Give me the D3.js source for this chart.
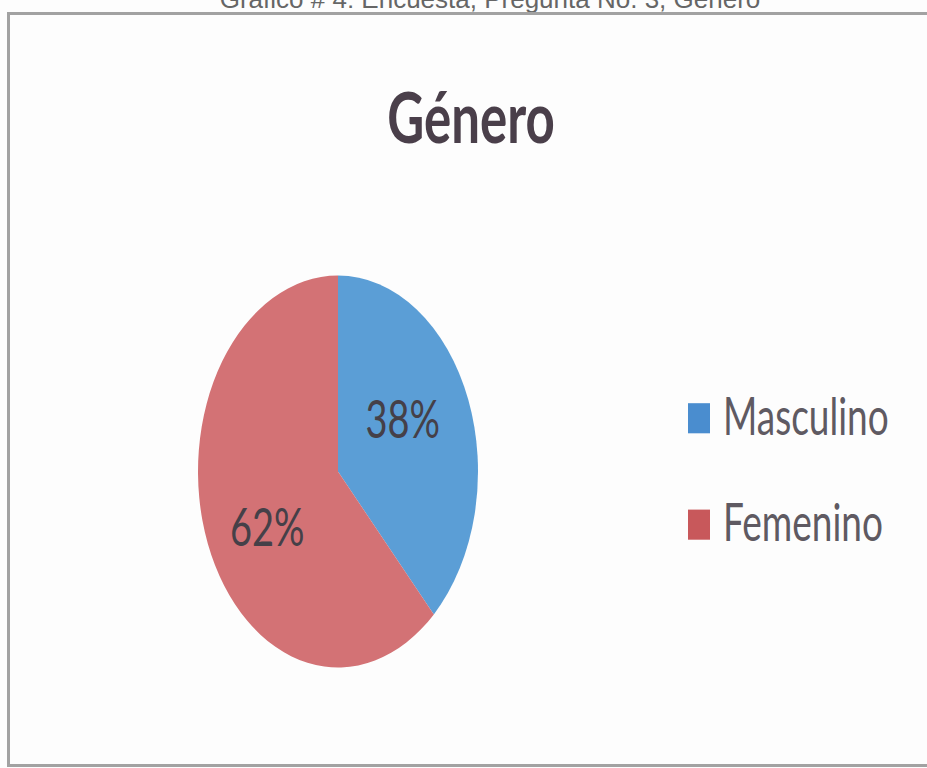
<!DOCTYPE html>
<html>
<head>
<meta charset="utf-8">
<script src="https://cdn.jsdelivr.net/npm/d3@7"></script>
<style>
  html, body { margin: 0; padding: 0; background: #fdfdfd; }
  svg { display: block; }
</style>
</head>
<body>
<div id="chart"></div>
<script>
// data
const categories = ['Masculino', 'Femenino'];
const values = [38, 62];
const sliceColors = ['#5b9ed6', '#d37275'];
const legendColors = ['#4a8dcf', '#c8585b'];
const title = 'Género';
const caption = 'Gráfico # 4: Encuesta, Pregunta No. 3, Género';

const W = 927, H = 768;
const sy = 1.4; // picture is stretched vertically

const svg = d3.select('#chart').append('svg')
  .attr('width', W)
  .attr('height', H);

svg.append('rect')
  .attr('width', W).attr('height', H)
  .attr('fill', '#fdfdfd');

// caption, cut at the top edge like in the scan
svg.append('text')
  .attr('x', 490)
  .attr('y', 8)
  .attr('text-anchor', 'middle')
  .attr('font-family', 'Liberation Sans, Arial, sans-serif')
  .attr('font-size', 26)
  .attr('fill', '#666')
  .text(caption);

// frame
svg.append('path')
  .attr('d', `M${W},13.5 H8.5 V765.5 H${W}`)
  .attr('fill', 'none')
  .attr('stroke', '#a2a2a2')
  .attr('stroke-width', 3);

const g = svg.append('g')
  .attr('transform', `scale(1,${sy})`);

g.append('text')
  .attr('x', 471)
  .attr('y', 143 / sy)
  .attr('text-anchor', 'middle')
  .attr('font-family', 'Lato, sans-serif')
  .attr('font-weight', 'bold')
  .attr('font-size', 51)
  .attr('fill', '#4a3f4a')
  .text(title);

// pie
const r = 140;
const cx = 338, cy = 471.5 / sy;

const pie = d3.pie().sort(null).value(d => d.value);
const arcs = pie(categories.map((c, i) => ({ name: c, value: values[i] })));

const arc = d3.arc().innerRadius(0).outerRadius(r);
const labelArc = d3.arc().innerRadius(r * 0.52).outerRadius(r * 0.52);
const labelShift = [-11, 13]; // vertical nudge of each label (group units)

const pg = g.append('g').attr('transform', `translate(${cx},${cy})`);

pg.selectAll('path')
  .data(arcs)
  .enter()
  .append('path')
  .attr('d', arc)
  .attr('fill', (d, i) => sliceColors[i]);

pg.selectAll('text')
  .data(arcs)
  .enter()
  .append('text')
  .attr('transform', (d, i) => {
    const [x, y] = labelArc.centroid(d);
    return `translate(${x - 3},${y + labelShift[i]})`;
  })
  .attr('text-anchor', 'middle')
  .attr('dy', '0.36em')
  .attr('font-family', 'Lato, sans-serif')
  .attr('font-size', 38)
  .attr('fill', '#454048')
  .text(d => d.value + '%');

// legend
const legend = g.append('g')
  .attr('transform', `translate(688,${288})`);

const item = legend.selectAll('g')
  .data(categories)
  .enter()
  .append('g')
  .attr('transform', (d, i) => `translate(0,${i * 76})`);

item.append('rect')
  .attr('width', 22)
  .attr('height', 21.5)
  .attr('fill', (d, i) => legendColors[i]);

item.append('text')
  .attr('x', 35)
  .attr('y', 22.5)
  .attr('font-family', 'Lato, sans-serif')
  .attr('font-size', 37)
  .attr('fill', '#5f5a62')
  .text(d => d);
</script>
</body>
</html>
